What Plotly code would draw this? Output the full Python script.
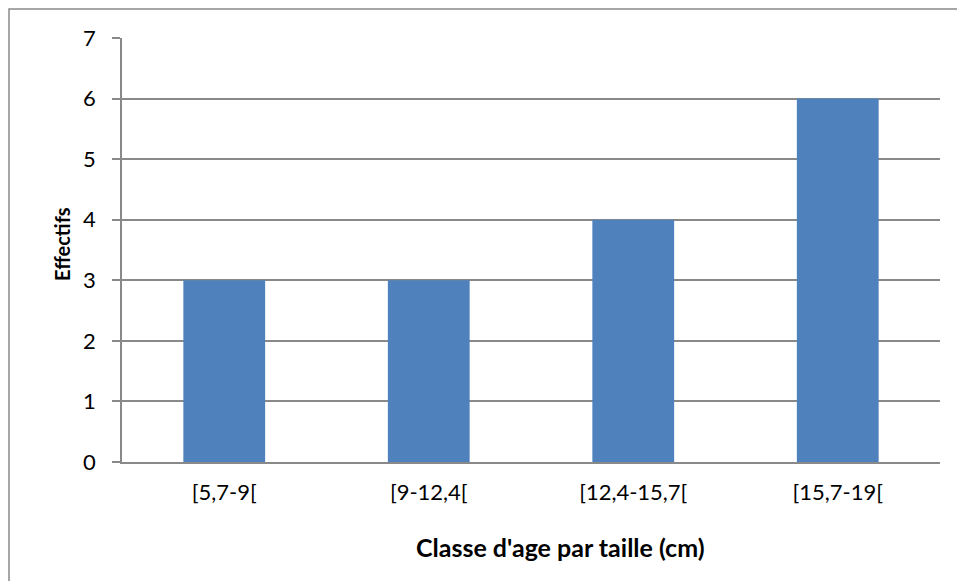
import plotly.graph_objects as go

categories = ["[5,7-9[", "[9-12,4[", "[12,4-15,7[", "[15,7-19["]
effectifs = [3, 3, 4, 6]
y_ticks = [0, 1, 2, 3, 4, 5, 6, 7]
x_title = "<b>Classe d'age par taille (cm)</b>"
y_title = "<b>Effectifs</b>"

W, H = 957, 581
L, R, T, B = 122, 17, 38, 119
pw, ph = W - L - R, H - T - B

def px(xpix):
    return (xpix - L) / pw

def py(ypix):
    return (H - B - ypix) / ph

font_family = "Lato, 'Open Sans', sans-serif"

fig = go.Figure(go.Bar(x=categories, y=effectifs, marker_color="#4F81BD",
                       marker_line_width=0, hoverinfo="skip"))

fig.update_layout(
    width=W, height=H,
    margin=dict(l=L, r=R, t=T, b=B, pad=0),
    paper_bgcolor="white", plot_bgcolor="white",
    bargap=0.6,
    font=dict(family=font_family, size=22, color="black"),
    showlegend=False,
    xaxis=dict(
        showline=True, linecolor="#898989", linewidth=1.5,
        ticks="", showgrid=False,
        tickfont=dict(size=22), ticklabelstandoff=10,
    ),
    yaxis=dict(
        range=[0, 7], tickvals=y_ticks, showline=True, linecolor="#898989", linewidth=1.5,
        ticks="outside", ticklen=8, tickcolor="#898989", tickwidth=1.5,
        showgrid=True, gridcolor="#898989", gridwidth=1.5, zeroline=False,
        tickfont=dict(size=22), ticklabelstandoff=12,
    ),
    annotations=[
        dict(text=x_title, xref="paper", yref="paper", x=px(560), y=py(547),
             xanchor="center", yanchor="middle", showarrow=False, font=dict(size=25)),
        dict(text=y_title, xref="paper", yref="paper", x=px(62), y=py(244),
             xanchor="center", yanchor="middle", showarrow=False, textangle=-90,
             font=dict(size=20)),
    ],
    shapes=[dict(type="rect", xref="paper", yref="paper",
                 x0=px(9), x1=1.2, y0=-0.6, y1=py(9),
                 line=dict(color="#898989", width=1.5), layer="below")],
)

fig.write_html("out.html", config={"displayModeBar": False},
               post_script="document.body.style.margin='0';document.body.style.overflow='hidden';")
